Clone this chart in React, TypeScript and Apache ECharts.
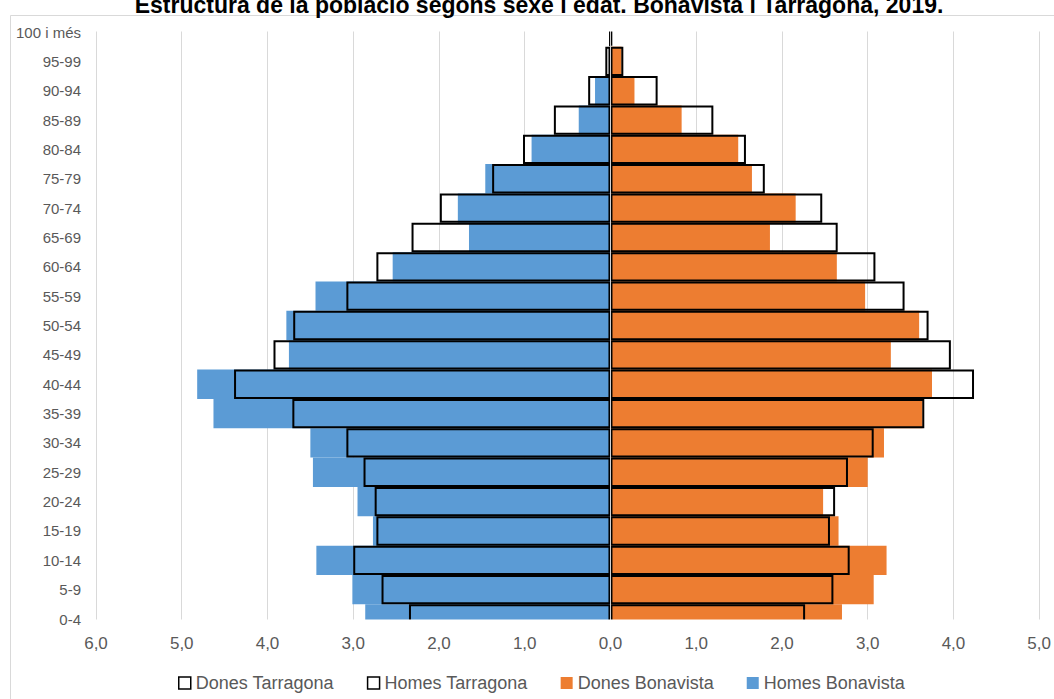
import React, { useEffect, useRef } from "react";
import * as echarts from "echarts";

const categories = ["0-4", "5-9", "10-14", "15-19", "20-24", "25-29", "30-34", "35-39", "40-44", "45-49", "50-54", "55-59", "60-64", "65-69", "70-74", "75-79", "80-84", "85-89", "90-94", "95-99", "100 i més"];

const homesBonavista = [2.86, 3.01, 3.43, 2.77, 2.95, 3.47, 3.50, 4.63, 4.82, 3.75, 3.78, 3.44, 2.54, 1.65, 1.78, 1.46, 0.92, 0.37, 0.18, 0.0, 0.0];
const donesBonavista = [2.70, 3.07, 3.22, 2.66, 2.48, 3.00, 3.19, 3.64, 3.75, 3.27, 3.60, 2.97, 2.64, 1.86, 2.16, 1.65, 1.49, 0.83, 0.28, 0.13, 0.0];
const homesTarragona = [2.35, 2.67, 3.00, 2.73, 2.75, 2.88, 3.08, 3.71, 4.39, 3.93, 3.70, 3.08, 2.73, 2.32, 1.99, 1.38, 1.02, 0.66, 0.26, 0.06, 0.01];
const donesTarragona = [2.27, 2.60, 2.79, 2.56, 2.62, 2.77, 3.07, 3.66, 4.24, 3.97, 3.71, 3.43, 3.09, 2.65, 2.47, 1.80, 1.58, 1.20, 0.55, 0.15, 0.02];

const xMin = -6;
const xMax = 5;
const xInterval = 1;

const titleText = "Estructura de la població segons sexe i edat. Bonavista i Tarragona, 2019.";
const FONT = '"Liberation Sans", Arial, sans-serif';

export default function App() {
  const ref = useRef<HTMLDivElement>(null);
  useEffect(() => {
    if (!ref.current) return;
    const chart = echarts.init(ref.current, null, { renderer: "svg" });
    const W = 1054;
    const H = 699;
    const firstLabelY = 32;
    const lastLabelY = 619;
    const band = (lastLabelY - firstLabelY) / (categories.length - 1);
    const gridTop = firstLabelY - band / 2;
    const gridBottom = H - (lastLabelY + band / 2);
    const gridLeft = 96;
    const gridRight = 12.5;

    const neg = (a: number[]) => a.map((v) => -v);
    const common = {
      type: "bar",
      barGap: "-100%",
      barCategoryGap: "0%",
      clip: false,
      silent: true,
    };

    chart.setOption({
      animation: false,
      textStyle: { fontFamily: FONT },
      grid: { left: gridLeft, right: gridRight, top: gridTop, bottom: gridBottom, containLabel: false },
      xAxis: {
        type: "value",
        min: xMin,
        max: xMax,
        interval: xInterval,
        axisLine: { show: false },
        axisTick: { show: false },
        splitLine: { show: true, lineStyle: { color: "#d9d9d9", width: 1 } },
        axisLabel: {
          color: "#595959",
          fontSize: 17,
          fontFamily: FONT,
          margin: 1,
          formatter: (v: number) => Math.abs(v).toFixed(1).replace(".", ","),
        },
      },
      yAxis: {
        type: "category",
        data: categories,
        boundaryGap: true,
        axisLine: { show: false },
        axisTick: { show: false },
        splitLine: { show: false },
        axisLabel: { color: "#595959", fontSize: 15, fontFamily: FONT, margin: 15, interval: 0 },
      },
      legend: {
        left: 173,
        top: 669,
        itemWidth: 12,
        itemHeight: 12,
        itemGap: 33,
        icon: "rect",
        textStyle: { color: "#595959", fontSize: 18, fontFamily: FONT },
        data: [
          { name: "Dones Tarragona", itemStyle: { color: "#ffffff", borderColor: "#000000", borderWidth: 1.5 } },
          { name: "Homes Tarragona", itemStyle: { color: "#ffffff", borderColor: "#000000", borderWidth: 1.5 } },
          { name: "Dones Bonavista", itemStyle: { color: "#ED7D31" } },
          { name: "Homes Bonavista", itemStyle: { color: "#5B9BD5" } },
        ],
      },
      series: [
        { ...common, name: "Homes Bonavista", data: neg(homesBonavista), itemStyle: { color: "#5B9BD5" } },
        { ...common, name: "Dones Bonavista", data: donesBonavista, itemStyle: { color: "#ED7D31" } },
        {
          ...common,
          name: "Homes Tarragona",
          data: neg(homesTarragona),
          itemStyle: { color: "rgba(0,0,0,0)", borderColor: "#000000", borderWidth: 2 },
        },
        {
          ...common,
          name: "Dones Tarragona",
          data: donesTarragona,
          itemStyle: { color: "rgba(0,0,0,0)", borderColor: "#000000", borderWidth: 2 },
          markLine: {
            silent: true,
            symbol: "none",
            label: { show: false },
            lineStyle: { color: "#d0d0d0", width: 1, type: "solid" },
            data: [{ xAxis: 0 }],
          },
        },
      ],
      graphic: [
        {
          type: "rect",
          z: 100,
          shape: { x: gridLeft - 2, y: gridTop - 1, width: W - gridLeft - gridRight + 10, height: firstLabelY - gridTop + 0.5 },
          style: { fill: "#ffffff" },
          silent: true,
        },
        {
          type: "rect",
          z: 100,
          shape: { x: gridLeft - 2, y: lastLabelY + 0.5, width: W - gridLeft - gridRight + 10, height: band / 2 + 0.5 },
          style: { fill: "#ffffff" },
          silent: true,
        },
        {
          type: "rect",
          z: 101,
          shape: { x: 10.5, y: 15.5, width: 1200, height: 900 },
          style: { fill: "none", stroke: "#d9d9d9", lineWidth: 1 },
          silent: true,
        },
        {
          type: "text",
          z: 102,
          x: 539,
          y: 5,
          style: {
            text: titleText,
            fill: "#000000",
            font: 'bold 23px "Liberation Sans", Arial, sans-serif',
            align: "center",
            verticalAlign: "middle",
          },
          silent: true,
        },
      ],
    });
    return () => chart.dispose();
  }, []);
  return <div ref={ref} style={{ position: "absolute", left: 0, top: 0, width: 1054, height: 699 }} />;
}
